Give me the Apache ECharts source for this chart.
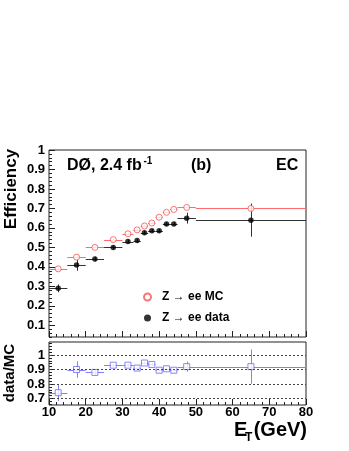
<!DOCTYPE html>
<html>
<head>
<meta charset="utf-8">
<script src="https://cdn.jsdelivr.net/npm/echarts@6/dist/echarts.min.js"></script>
<style>
  html, body { margin: 0; padding: 0; background: #fff; }
  #chartBox { width: 349px; height: 451px; }
</style>
</head>
<body>
<div id="chartBox"></div>
<script>
// bins in E_T (GeV)
const binCenters = [12.5, 17.5, 22.5, 27.5, 31.5, 34, 36, 38, 40, 42, 44, 47.5, 65];
const binHalfWidths = [2.5, 2.5, 2.5, 2.5, 1.5, 1, 1, 1, 1, 1, 1, 2.5, 15];
// Z -> ee MC efficiency
const mcEff = [0.39, 0.45, 0.50, 0.54, 0.57, 0.59, 0.61, 0.625, 0.655, 0.68, 0.695, 0.705, 0.70];
const mcErr = [0.005, 0.005, 0.004, 0.004, 0.004, 0.004, 0.004, 0.004, 0.004, 0.004, 0.004, 0.004, 0.006];
// Z -> ee data efficiency
const dataEff = [0.29, 0.41, 0.44, 0.50, 0.53, 0.535, 0.575, 0.585, 0.585, 0.62, 0.62, 0.65, 0.64];
const dataErr = [0.02, 0.03, 0.012, 0.01, 0.01, 0.01, 0.01, 0.01, 0.01, 0.01, 0.01, 0.028, 0.085];
// data/MC ratio
const ratio = [0.74, 0.90, 0.88, 0.93, 0.93, 0.91, 0.945, 0.935, 0.895, 0.905, 0.895, 0.92, 0.92];
const ratioErr = [0.057, 0.057, 0.02, 0.01, 0.01, 0.01, 0.01, 0.01, 0.01, 0.01, 0.01, 0.035, 0.118];
// tick labels
const effTicks = [0.1, 0.2, 0.3, 0.4, 0.5, 0.6, 0.7, 0.8, 0.9, 1];
const ratioTicks = [0.7, 0.8, 0.9, 1];

const FONT = 'Liberation Sans, Arial, Helvetica, sans-serif';
const RED = '#f25555';
const BLUE = '#6b6bf5';

function minorList(lo, hi, step) {
    let out = [];
    for (let v = lo; v <= hi + 1e-9; v += step) out.push(Math.round(v * 1000) / 1000);
    return out;
}

function rows(y, e) {
    return binCenters.map(function (x, i) { return [x, y[i], binHalfWidths[i], e[i]]; });
}

function errBars(color) {
    return function (params, api) {
        let x = api.value(0), y = api.value(1), hw = api.value(2), e = api.value(3);
        let l = api.coord([x - hw, y]), r = api.coord([x + hw, y]);
        let t = api.coord([x, y + e]), b = api.coord([x, y - e]);
        let st = {stroke: color, lineWidth: 1};
        let yy = Math.round(l[1]) + 0.5, xx = Math.round(t[0]) + 0.5;
        return {
            type: 'group', children: [
                {type: 'line', shape: {x1: l[0], y1: yy, x2: r[0], y2: yy}, style: st},
                {type: 'line', shape: {x1: xx, y1: t[1], x2: xx, y2: b[1]}, style: st}
            ]
        };
    };
}

let xAxisBase = function (grid, showLabel) {
    return {
        type: 'value', gridIndex: grid, min: 10, max: 80, interval: 10,
        axisLine: {show: false},
        axisTick: {show: true, inside: true, length: 6, lineStyle: {color: '#222'}},
        minorTick: {show: true, splitNumber: 5, length: 3, lineStyle: {color: '#222'}},
        splitLine: {show: false},
        axisLabel: {show: showLabel, margin: 1, fontFamily: FONT, fontWeight: 'bold', fontSize: 13, color: '#000'}
    };
};

let yMajor = function (grid, min, max, ticks) {
    return {
        type: 'value', gridIndex: grid, min: min, max: max, position: 'left',
        axisLine: {show: false},
        axisTick: {show: true, inside: true, length: 6, customValues: ticks, lineStyle: {color: '#222'}},
        axisLabel: {show: true, customValues: ticks, margin: 4, fontFamily: FONT, fontWeight: 'bold', fontSize: 13, color: '#000'},
        splitLine: {show: false}
    };
};

let yMinor = function (grid, min, max, ticks) {
    return {
        type: 'value', gridIndex: grid, min: min, max: max, position: 'left',
        axisLine: {show: false},
        axisTick: {show: true, inside: true, length: 3, customValues: ticks, lineStyle: {color: '#222'}},
        axisLabel: {show: false},
        splitLine: {show: false}
    };
};

let chartBox = echarts.init(document.getElementById('chartBox'), null, {renderer: 'canvas'});
let option = {
    animation: false,
    backgroundColor: '#fff',
    grid: [
        {left: 49, top: 150, width: 257, height: 187, show: true, borderColor: '#222', borderWidth: 1, backgroundColor: 'transparent'},
        {left: 49, top: 342, width: 257, height: 63, show: true, borderColor: '#222', borderWidth: 1, backgroundColor: 'transparent'}
    ],
    xAxis: [xAxisBase(0, false), xAxisBase(1, true)],
    yAxis: [
        yMajor(0, 0.04, 1, effTicks),
        yMinor(0, 0.04, 1, minorList(0.04, 1, 0.02)),
        yMajor(1, 0.655, 1.09, ratioTicks),
        yMinor(1, 0.655, 1.09, minorList(0.66, 1.08, 0.02))
    ],
    legend: {
        data: ['Z \u2192 ee MC', 'Z \u2192 ee data'],
        orient: 'vertical', left: 138, top: 286,
        itemWidth: 7, itemHeight: 7, itemGap: 9,
        textStyle: {fontFamily: FONT, fontWeight: 'bold', fontSize: 12, color: '#000', padding: [0, 0, 0, 6]}
    },
    graphic: [
        {type: 'text', x: 67, y: 166, style: {text: 'D\u00d8, 2.4 fb', font: 'bold 16px ' + FONT, fill: '#000', verticalAlign: 'middle'}},
        {type: 'text', x: 143.5, y: 161, style: {text: '-1', font: 'bold 10px ' + FONT, fill: '#000', verticalAlign: 'middle'}},
        {type: 'text', x: 191, y: 166, style: {text: '(b)', font: 'bold 16px ' + FONT, fill: '#000', verticalAlign: 'middle'}},
        {type: 'text', x: 276, y: 166, style: {text: 'EC', font: 'bold 16px ' + FONT, fill: '#000', verticalAlign: 'middle'}},
        {type: 'text', x: 11, y: 189, rotation: Math.PI / 2, style: {text: 'Efficiency', font: 'bold 17px ' + FONT, fill: '#000', align: 'center', verticalAlign: 'middle'}},
        {type: 'text', x: 10, y: 373, rotation: Math.PI / 2, style: {text: 'data/MC', font: 'bold 15px ' + FONT, fill: '#000', align: 'center', verticalAlign: 'middle'}},
        {type: 'text', x: 234, y: 430, style: {text: 'E', font: 'bold 20px ' + FONT, fill: '#000', verticalAlign: 'middle'}},
        {type: 'text', x: 245, y: 438, style: {text: 'T', font: 'bold 12px ' + FONT, fill: '#000', verticalAlign: 'middle'}},
        {type: 'text', x: 307, y: 430, style: {text: '(GeV)', font: 'bold 20px ' + FONT, fill: '#000', align: 'right', verticalAlign: 'middle'}}
    ],
    series: [
        {
            type: 'custom', name: 'mcErr', xAxisIndex: 0, yAxisIndex: 0, z: 2,
            renderItem: errBars('#ff6a6a'), data: rows(mcEff, mcErr), encode: {x: 0, y: 1}
        },
        {
            type: 'custom', name: 'dataErr', xAxisIndex: 0, yAxisIndex: 0, z: 2,
            renderItem: errBars('#333'), data: rows(dataEff, dataErr), encode: {x: 0, y: 1}
        },
        {
            type: 'scatter', name: 'Z \u2192 ee MC', xAxisIndex: 0, yAxisIndex: 0, z: 3,
            symbol: 'circle', symbolSize: 6,
            itemStyle: {color: '#fff', borderColor: RED, borderWidth: 1},
            data: binCenters.map(function (x, i) { return [x, mcEff[i]]; })
        },
        {
            type: 'scatter', name: 'Z \u2192 ee data', xAxisIndex: 0, yAxisIndex: 0, z: 3,
            symbol: 'circle', symbolSize: 5.5,
            itemStyle: {color: '#000'},
            data: binCenters.map(function (x, i) { return [x, dataEff[i]]; })
        },
        {
            type: 'custom', name: 'ratioErr', xAxisIndex: 1, yAxisIndex: 2, z: 2,
            renderItem: errBars('#8080ff'), data: rows(ratio, ratioErr), encode: {x: 0, y: 1},
            markLine: {
                silent: true, symbol: 'none', label: {show: false},
                lineStyle: {color: '#444', type: [2, 2], width: 1},
                data: ratioTicks.map(function (v) { return {yAxis: v}; })
            }
        },
        {
            type: 'scatter', name: 'ratio', xAxisIndex: 1, yAxisIndex: 2, z: 3,
            symbol: 'rect', symbolSize: 6,
            itemStyle: {color: '#fff', borderColor: BLUE, borderWidth: 1},
            data: binCenters.map(function (x, i) { return [x, ratio[i]]; })
        }
    ]
};
chartBox.setOption(option, true);
</script>
</body>
</html>
